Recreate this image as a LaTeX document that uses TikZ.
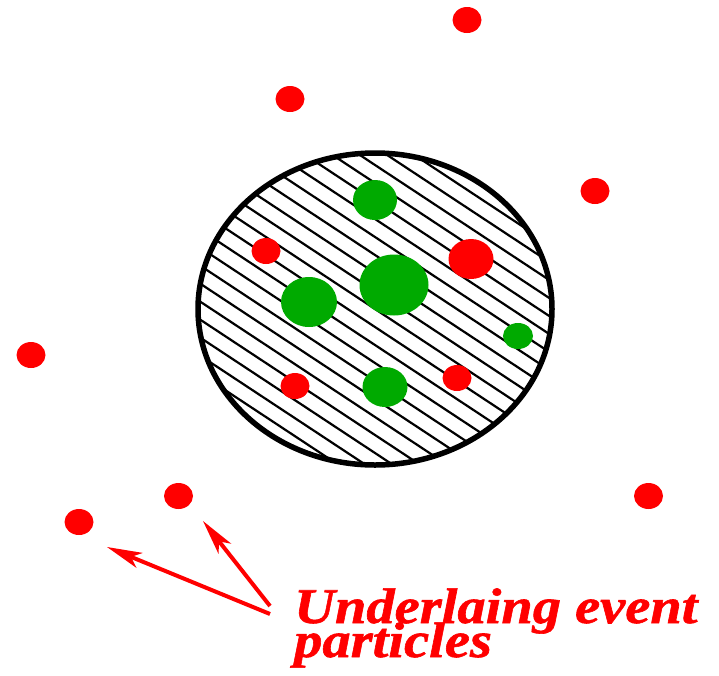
\documentclass[tikz,border=0pt]{standalone}
\usepackage{fontspec}
\newfontfamily\lblfont[FakeStretch=1.13,FakeBold=1.2]{Liberation Serif}
\usetikzlibrary{arrows.meta,shapes.geometric}
\definecolor{dotred}{RGB}{255,0,0}
\definecolor{dotgreen}{RGB}{0,170,0}
\begin{document}
\begin{tikzpicture}[x=1pt,y=-1pt,
  particle/.style={ellipse, inner sep=0pt, outer sep=0pt, draw=none},
  rdot/.style={particle, fill=dotred, minimum width=29pt, minimum height=26pt},
  gdot/.style={particle, fill=dotgreen},
  hatchline/.style={line width=2.2pt, black},
  jetarea/.style={ellipse, draw=black, line width=5.5pt, inner sep=0pt, minimum width=354pt, minimum height=312pt},
  pointer/.style={draw=dotred, line width=4pt, -{Stealth[length=35pt, width=16pt, inset=9pt]}},
  lbltext/.style={anchor=base west, text=dotred, inner sep=0pt, font=\lblfont\bfseries\itshape\fontsize{50}{34}\selectfont}
]
\useasboundingbox (0,0) rectangle (719,675);
% hatching inside the jet area
\begin{scope}
  \clip (375,309) ellipse [x radius=177, y radius=156];
  \foreach \c in {-450,-432,...,450}
    \draw[hatchline] ({150},{309+\c-148.5}) -- ({600},{309+\c+148.5});
\end{scope}
% particles inside the jet
\node[gdot, minimum width=44pt, minimum height=40pt] (g1) at (375,200) {};
\node[gdot, minimum width=69pt, minimum height=61pt] (g2) at (394,285) {};
\node[gdot, minimum width=56pt, minimum height=50pt] (g3) at (309,302) {};
\node[gdot, minimum width=30pt, minimum height=26pt] (g4) at (518,336) {};
\node[gdot, minimum width=45pt, minimum height=40pt] (g5) at (385,387) {};
\node[rdot] (r1) at (266,251) {};
\node[rdot, minimum width=45pt, minimum height=40pt] (r2) at (471,259) {};
\node[rdot] (r3) at (295,386) {};
\node[rdot] (r4) at (457,378) {};
% jet boundary
\node[jetarea] (jet) at (375,309) {};
% underlying event particles
\node[rdot] (u1) at (467,20) {};
\node[rdot] (u2) at (290,99) {};
\node[rdot] (u3) at (595,191) {};
\node[rdot] (u4) at (31,355) {};
\node[rdot] (u5) at (178.5,496) {};
\node[rdot] (u6) at (79,522) {};
\node[rdot] (u7) at (648.5,496) {};
% label and pointers
\node[lbltext] (lbl1) at (294,623) {Underlaing event};
\node[lbltext] (lbl2) at (294,657) {particles};
\coordinate (s1) at (270,614);
\coordinate (s2) at (270,606);
\coordinate (e1) at (107,547);
\coordinate (e2) at (203,521);
\draw[pointer] (s1) -- (e1);
\draw[pointer] (s2) -- (e2);
\end{tikzpicture}
\end{document}
